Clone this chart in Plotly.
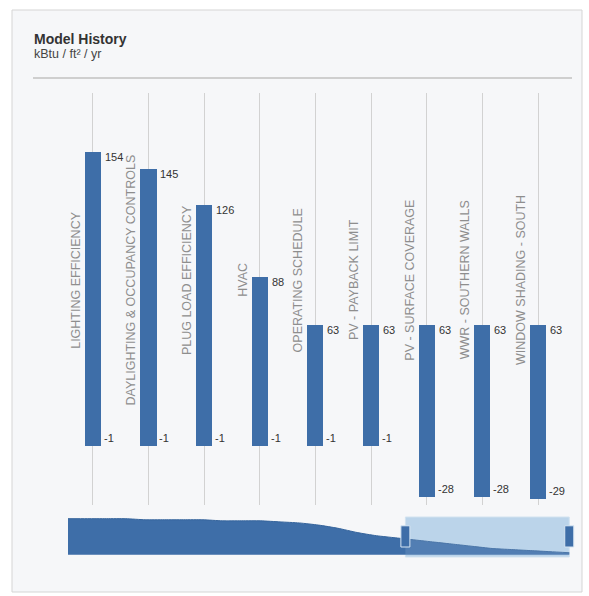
import plotly.graph_objects as go

# ---------------- data ----------------
categories = [
    "LIGHTING EFFICIENCY",
    "DAYLIGHTING & OCCUPANCY CONTROLS",
    "PLUG LOAD EFFICIENCY",
    "HVAC",
    "OPERATING SCHEDULE",
    "PV - PAYBACK LIMIT",
    "PV - SURFACE COVERAGE",
    "WWR - SOUTHERN WALLS",
    "WINDOW SHADING - SOUTH",
]
high_values = [154, 145, 126, 88, 63, 63, 63, 63, 63]
low_values = [-1, -1, -1, -1, -1, -1, -28, -28, -29]

# overview (range-slider) profile: EUI of every model version in the history
overview_versions = list(range(1, 28))
overview_values = [170, 170, 170, 170, 165, 165, 165, 165, 160, 160, 160, 155, 150,
                   140, 125, 105, 90, 80, 70, 60, 50, 40, 30, 25, 20, 15, 10]

title_text = "Model History"
subtitle_text = "kBtu / ft² / yr"

# ---------------- styling / layout helpers ----------------
W, H = 589, 596
BLUE = "#3e6ea8"
FONT = "Liberation Sans, Arial"


def fx(px):
    return px / W


def fy(py):
    return 1 - py / H


fig = go.Figure()

fig.add_trace(go.Bar(
    x=categories,
    y=[h - l for h, l in zip(high_values, low_values)],
    base=low_values,
    width=0.29,
    marker=dict(color=BLUE, line=dict(width=0)),
    hoverinfo="skip",
    xaxis="x", yaxis="y",
))

fig.add_trace(go.Scatter(
    x=overview_versions,
    y=overview_values,
    mode="lines",
    fill="tozeroy",
    line=dict(color="#35649c", width=1, shape="spline", smoothing=0.6),
    fillcolor=BLUE,
    hoverinfo="skip",
    xaxis="x2", yaxis="y2",
))

annotations = []
annotations.append(dict(text="<b>" + title_text + "</b>", xref="paper", yref="paper",
                        x=fx(32), y=fy(39), xanchor="left", yanchor="middle",
                        showarrow=False, font=dict(size=14, color="#333333", family=FONT)))
annotations.append(dict(text=subtitle_text, xref="paper", yref="paper",
                        x=fx(32), y=fy(54), xanchor="left", yanchor="middle",
                        showarrow=False, font=dict(size=12.5, color="#444444", family=FONT)))

for cat, hi, lo in zip(categories, high_values, low_values):
    annotations.append(dict(text=cat, xref="x", yref="paper", x=cat, y=fy(280),
                            xanchor="center", yanchor="middle", textangle=-90,
                            xshift=-17, showarrow=False,
                            font=dict(size=12.5, color="#8e8e8e", family=FONT)))
    annotations.append(dict(text=str(hi), xref="x", yref="y", x=cat, y=hi,
                            xanchor="left", yanchor="middle", xshift=10, yshift=-5,
                            showarrow=False,
                            font=dict(size=11, color="#333333", family=FONT)))
    annotations.append(dict(text=str(lo), xref="x", yref="y", x=cat, y=lo,
                            xanchor="left", yanchor="middle", xshift=9, yshift=8,
                            showarrow=False,
                            font=dict(size=11, color="#333333", family=FONT)))

n_total = len(overview_versions)
n_visible = len(categories)
win_start = overview_versions[n_total - n_visible] - 0.5
win_end = overview_versions[-1]

shapes = [
    dict(type="rect", xref="paper", yref="paper", x0=fx(12), x1=fx(582),
         y0=fy(592), y1=fy(10), fillcolor="#f6f7f9",
         line=dict(color="#d5d5d5", width=1), layer="below"),
    dict(type="line", xref="paper", yref="paper", x0=fx(33), x1=fx(572),
         y0=fy(78), y1=fy(78), line=dict(color="#cfcfcf", width=2), layer="below"),
    # slider window background
    dict(type="rect", xref="x2", yref="y2 domain", x0=win_start, x1=win_end,
         y0=0, y1=1, fillcolor="#b9d3e9",
         line=dict(color="#d3e3f0", width=1), layer="below"),
    # slider window veil
    dict(type="rect", xref="x2", yref="y2 domain", x0=win_start, x1=win_end,
         y0=0, y1=1, fillcolor="rgba(200,222,240,0.15)",
         line=dict(width=0), layer="above"),
]
for xa in (win_start, win_end):
    shapes.append(dict(type="rect", xref="x2", yref="y2 domain",
                       xsizemode="pixel", xanchor=xa, x0=-4.5, x1=4.5,
                       y0=0.25, y1=0.78, fillcolor=BLUE,
                       line=dict(color="#d6e5f2", width=1), layer="above"))

fig.update_layout(
    width=W, height=H,
    margin=dict(l=0, r=0, t=0, b=0),
    paper_bgcolor="white",
    plot_bgcolor="rgba(0,0,0,0)",
    showlegend=False,
    bargap=0,
    xaxis=dict(domain=[fx(65), fx(567)], type="category", showgrid=True,
               gridcolor="#d2d2d2", gridwidth=1, showticklabels=False,
               zeroline=False, showline=False, ticks="", fixedrange=True),
    yaxis=dict(domain=[fy(505), fy(93)], range=[-32, 185], visible=False,
               showgrid=False, zeroline=False, fixedrange=True),
    xaxis2=dict(domain=[fx(68), fx(576)], range=[overview_versions[0], 27.35],
                anchor="y2", visible=False, showgrid=False, zeroline=False,
                fixedrange=True),
    yaxis2=dict(domain=[fy(557), fy(517)], range=[-10, 178], anchor="x2",
                visible=False, showgrid=False, zeroline=False, fixedrange=True),
    annotations=annotations,
    shapes=shapes,
)

fig.write_html("out.html", config={"displayModeBar": False, "staticPlot": True},
               post_script="document.body.style.margin='0';document.body.style.overflow='hidden';")
